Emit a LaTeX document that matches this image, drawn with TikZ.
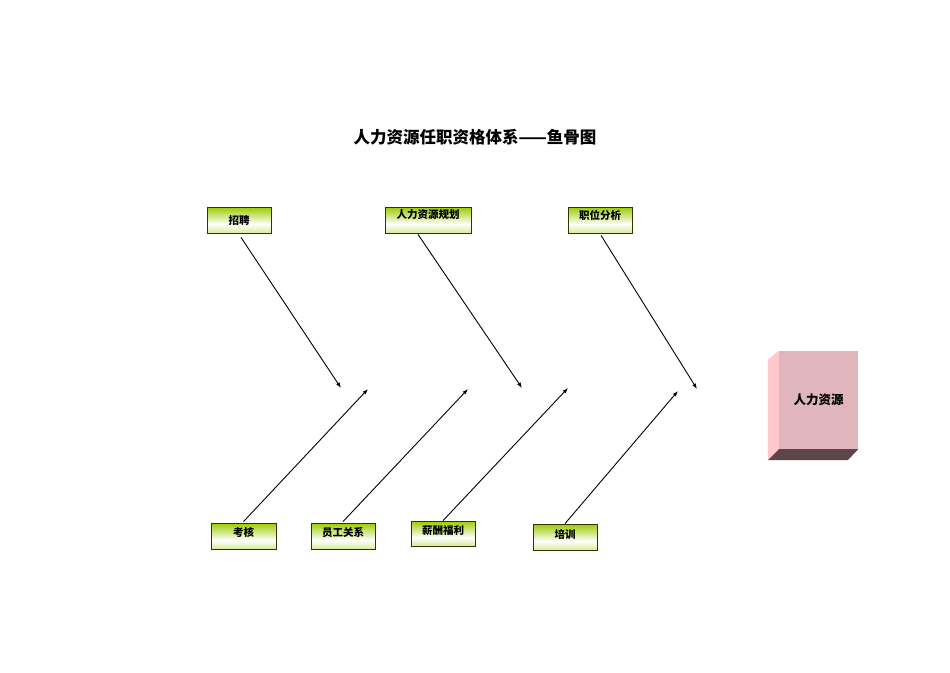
\documentclass[tikz,border=0pt]{standalone}
\usepackage{fontspec}
\usepackage{tikz}
\usetikzlibrary{arrows.meta}
\newfontfamily\cjk{Noto Sans CJK SC}
\definecolor{barGreen}{RGB}{153,204,0}
\definecolor{barPale}{RGB}{214,236,150}
\definecolor{barEdge}{RGB}{51,51,0}
\definecolor{hrFront}{RGB}{224,182,188}
\definecolor{hrSide}{RGB}{255,200,202}
\definecolor{hrBottom}{RGB}{92,70,74}
\pgfdeclareverticalshading{greenbar}{100bp}{color(0bp)=(barPale); color(25bp)=(barPale); color(42bp)=(white); color(75bp)=(barGreen); color(100bp)=(barGreen)}
\tikzset{
  bar/.style={draw=barEdge, line width=0.8pt, shading=greenbar,
    minimum width=64pt, minimum height=26pt, inner sep=0pt,
    font=\cjk\bfseries\fontsize{10.5}{10.5}\selectfont},
  lifted/.style={text depth=#1pt},
  bone/.style={line width=0.9pt, -{Latex[length=5.5pt,width=4pt]}}
}

\begin{document}
\begin{tikzpicture}[x=1pt,y=-1pt]
    \useasboundingbox (0,0) rectangle (950,672);

    \draw(475,137) node (title) {\cjk\bfseries\fontsize{16.5}{16.5}\selectfont 人力资源任职资格体系——鱼骨图};

    % head of the fish
    \draw(818.5,400) node[fill=hrFront, minimum width=79pt, minimum height=98pt, inner sep=0pt,
      font=\cjk\bfseries\fontsize{12.5}{12.5}\selectfont] (hr) {人力资源};
    \fill[hrSide] (hr.north west) -- ++(-11,9) -- ++(0,100) -- (hr.south west) -- cycle;
    \fill[hrBottom] (hr.south west) -- ++(-11,11) -- ++(80,0) -- (hr.south east) -- cycle;

    % upper bones
    \draw(239,220) node[bar, text height=10pt] (zp) {招聘};
    \draw(428,220) node[bar, minimum width=86pt, lifted=11] (gh) {人力资源规划};
    \draw(600,220) node[bar, lifted=11] (fx) {职位分析};

    % lower bones
    \draw(243.5,536) node[bar, minimum width=65pt, lifted=9] (kh) {考核};
    \draw(343,536) node[bar, lifted=9] (yg) {员工关系};
    \draw(443,533.5) node[bar, minimum height=25pt, lifted=7] (xc) {薪酬福利};
    \draw(565,537) node[bar, lifted=7] (px) {培训};

    \coordinate (t1) at (341,388);
    \coordinate (t2) at (522,388);
    \coordinate (t3) at (697,389);
    \coordinate (b1) at (368,389);
    \coordinate (b2) at (468,389);
    \coordinate (b3) at (568,388);
    \coordinate (b4) at (678,391);

    \draw[bone] ([xshift=2pt,yshift=-4pt]zp.south) -- (t1);
    \draw[bone] ([xshift=-10pt,yshift=-1pt]gh.south) -- (t2);
    \draw[bone] ([xshift=1pt,yshift=-2pt]fx.south) -- (t3);
    \draw[bone] ([yshift=1pt]kh.north) -- (b1);
    \draw[bone] ([yshift=1pt]yg.north) -- (b2);
    \draw[bone] (xc.north) -- (b3);
    \draw[bone] (px.north) -- (b4);

\end{tikzpicture}
\end{document}
